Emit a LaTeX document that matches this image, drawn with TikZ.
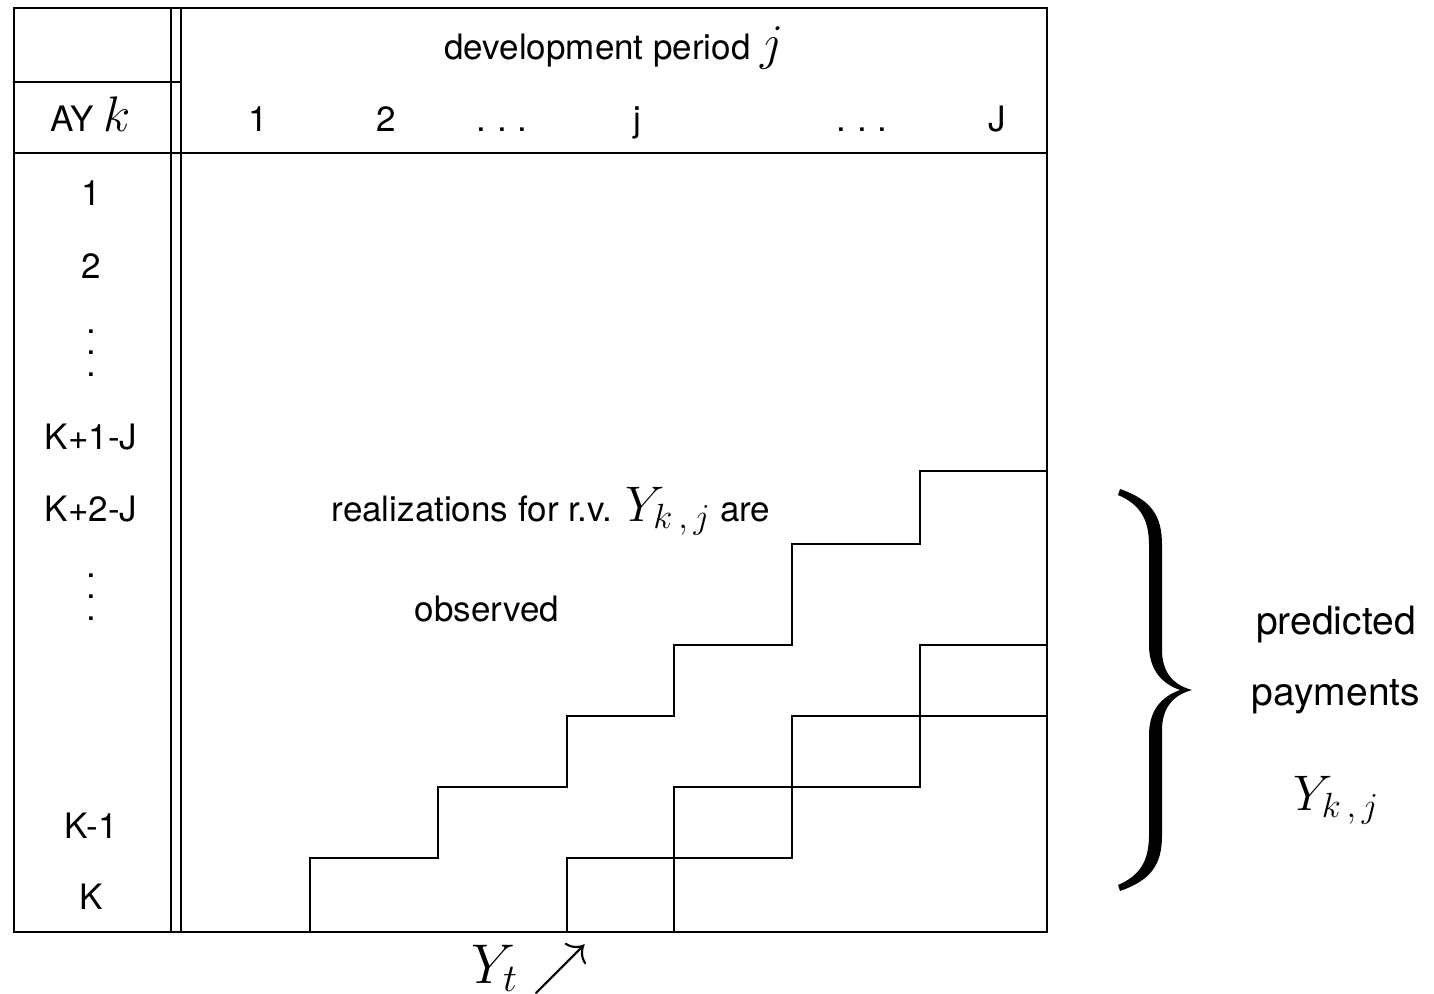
\RequirePackage{fix-cm}
\documentclass[tikz,border=0pt]{standalone}
\usepackage{fontspec}
\setmainfont{TeX Gyre Heros}
\newcommand\mymath[1]{{\fontsize{50}{54}\selectfont$#1$}}
\newcommand\tdots{.\hspace{0.3em}.\hspace{0.3em}.}
\begin{document}
\begin{tikzpicture}[x=1pt,y=-1pt,
  grid/.style={line width=2.6pt, line join=miter},
  lbl/.style={font=\fontsize{35}{40}\selectfont, inner sep=0pt, anchor=base},
  dts/.style={font=\fontsize{35}{21.5}\selectfont, inner sep=0pt, align=center},
  side/.style={font=\fontsize{39}{44}\selectfont, inner sep=0pt, anchor=base},
  bigmath/.style={font=\fontsize{56}{60}\selectfont, inner sep=0pt, anchor=base west}]
\useasboundingbox (0,0) rectangle (1434,993);
% frame and rules
\draw[grid] (14,8) rectangle (1047,932);
\draw[grid] (171,8) -- (171,932);
\draw[grid] (181,8) -- (181,932);
\draw[grid] (14,82) -- (181,82);
\draw[grid] (14,153) -- (1047,153);
% staircases
\draw[grid] (310,932) |- (438,858) |- (567,787) |- (674,716) |- (792,645) |- (920,544) |- (1047,471);
\draw[grid] (567,932) |- (792,858) |- (1047,716);
\draw[grid] (674,932) |- (920,787) |- (1047,645);
% header
\node[lbl] (dev) at (614,59) {development period \mymath{j}};
\node[lbl] (ay) at (91,131) {AY \mymath{k}};
\node[lbl] (c1) at (258,131) {1};
\node[lbl] (c2) at (386,131) {2};
\node[lbl] (c3) at (502,131) {\tdots};
\node[lbl] (cj) at (637,131) {j};
\node[lbl] (c5) at (862,131) {\tdots};
\node[lbl] (cJ) at (997,131) {J};
% row labels
\node[lbl] (r1) at (91,205) {1};
\node[lbl] (r2) at (91,278) {2};
\node[dts] (rd1) at (91,353) {.\\.\\.};
\node[lbl] (rK1) at (91,449) {K+1-J};
\node[lbl] (rK2) at (91,521) {K+2-J};
\node[dts] (rd2) at (91,597) {.\\.\\.};
\node[lbl] (rKm) at (91,838) {K-1};
\node[lbl] (rK) at (91,909) {K};
% inner text
\node[lbl] (real) at (551,521) {realizations for r.v. \mymath{Y_{k\,,\,j}} are};
\node[lbl] (obs) at (487,621) {observed};
% brace
\fill (1120,489) .. controls (1151,500) and (1162,515) .. (1162,545) -- (1162,650)
  .. controls (1162,672) and (1173,685) .. (1192,690)
  .. controls (1173,695) and (1162,708) .. (1162,730) -- (1162,835)
  .. controls (1162,865) and (1151,880) .. (1120,891) -- (1118,885)
  .. controls (1139,876) and (1149,862) .. (1149,835) -- (1149,735)
  .. controls (1149,712) and (1160,697) .. (1180,690)
  .. controls (1160,683) and (1149,668) .. (1149,645) -- (1149,545)
  .. controls (1149,518) and (1139,504) .. (1118,495) -- cycle;
\node[side] (pred) at (1336,634) {predicted};
\node[side] (pay) at (1336,705) {payments};
\node[side] (ykj) at (1336,810) {\mymath{Y_{k\,,\,j}}};
% bottom
\node[bigmath] (yt) at (471,983) {$Y_t\nearrow$};
\end{tikzpicture}
\end{document}
